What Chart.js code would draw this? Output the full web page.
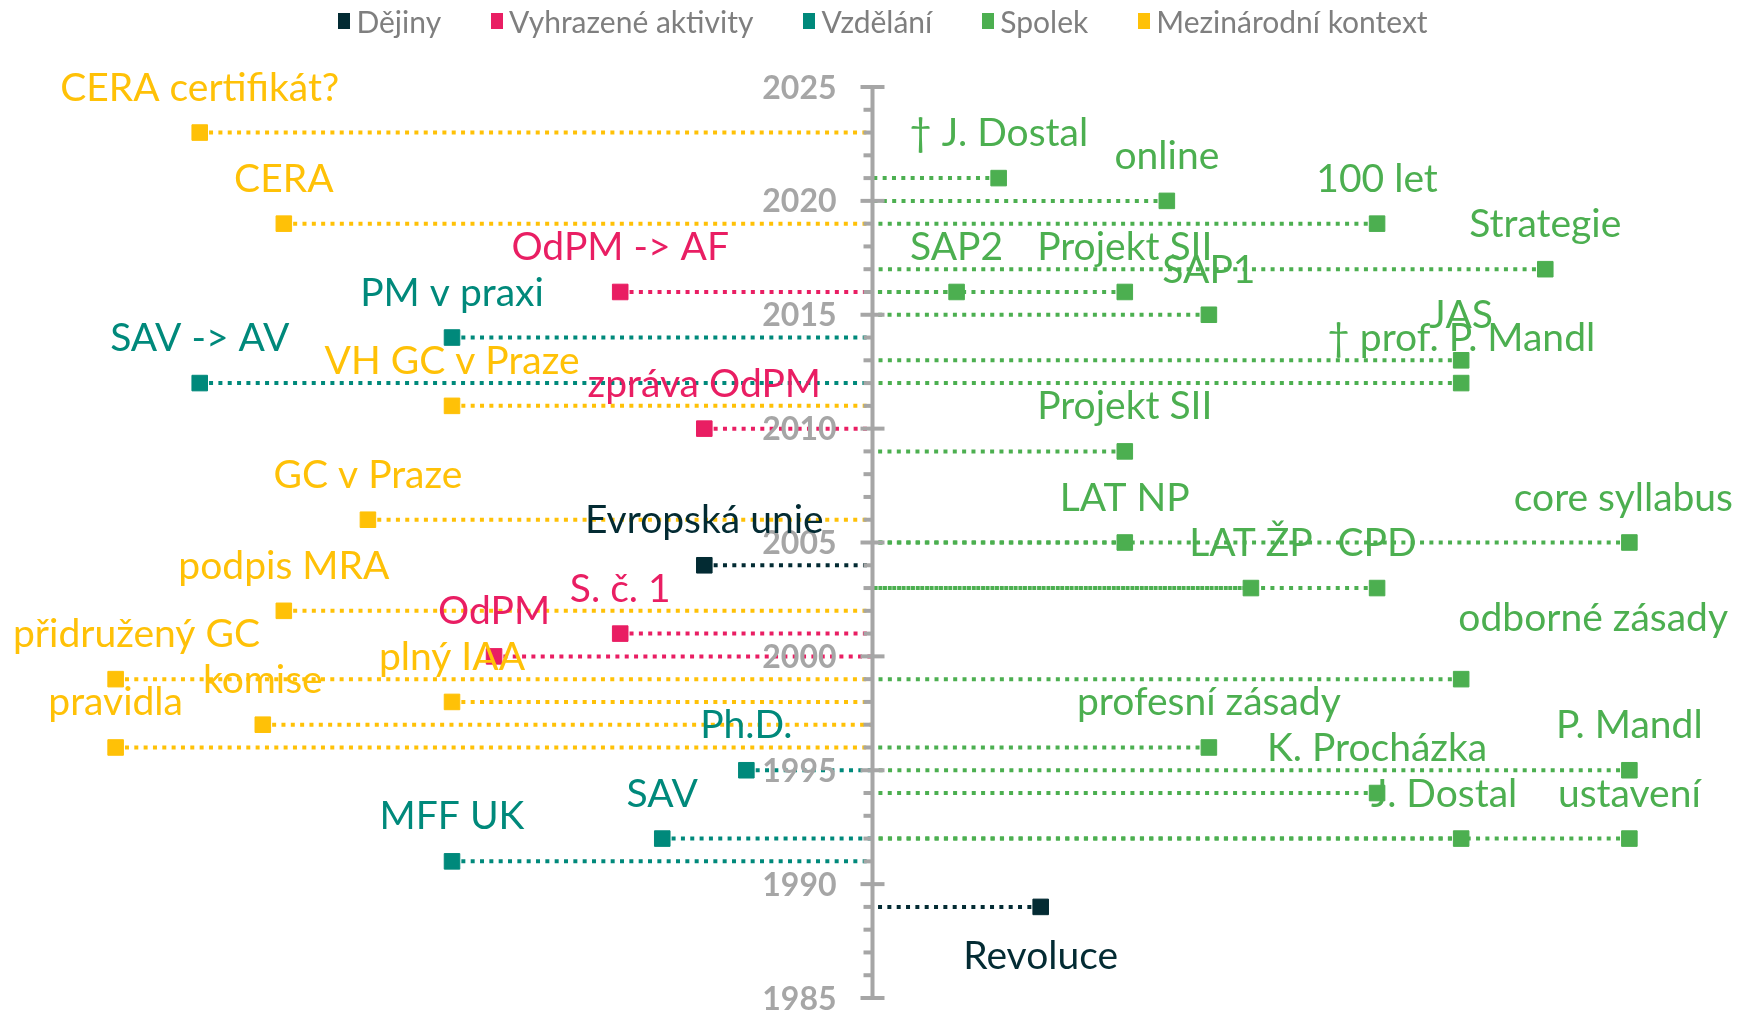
<!DOCTYPE html>
<html lang="cs">
<head>
<meta charset="utf-8">
<title>Časová osa</title>
<script src="https://cdn.jsdelivr.net/npm/chart.js@4.4.1/dist/chart.umd.min.js"></script>
<style>
  body { margin: 0; background: #fff; font-family: Lato, sans-serif; }
  #wrap { position: relative; width: 1752px; height: 1014px; }
  #legend {
    position: absolute; top: 0; left: 0; width: 100%; height: 42px;
    display: flex; justify-content: center; align-items: center; gap: 50px;
    font-size: 30px; color: #7f7f7f; padding-left: 14px; box-sizing: border-box;
  }
  #legend .item { display: flex; align-items: center; }
  #legend .box { width: 12px; height: 16px; margin-right: 6px; }
</style>
</head>
<body>
<div id="wrap">
  <canvas id="timeline"></canvas>
  <div id="legend"></div>
</div>
<script>
// kategorie
const categoryNames = ['Dějiny', 'Vyhrazené aktivity', 'Vzdělání', 'Spolek', 'Mezinárodní kontext'];
const categoryColors = ['#032b33', '#e91e63', '#00897b', '#4caf50', '#ffc107'];

// události: popisek, rok, vodorovná hodnota, kategorie
const eventLabels = [
  'CERA certifikát?', 'CERA', 'OdPM -> AF', 'PM v praxi', 'SAV -> AV', 'VH GC v Praze',
  'zpráva OdPM', 'GC v Praze', 'Evropská unie', 'podpis MRA', 'S. č. 1', 'OdPM',
  'přidružený GC', 'plný IAA', 'komise', 'pravidla', 'Ph.D.', 'SAV', 'MFF UK', 'Revoluce',
  '† J. Dostal', 'online', '100 let', 'Strategie', 'SAP2', 'Projekt SII', 'SAP1', 'JAS',
  '† prof. P. Mandl', 'Projekt SII', 'LAT NP', 'core syllabus', 'LAT ŽP', 'CPD',
  'odborné zásady', 'profesní zásady', 'P. Mandl', 'K. Procházka', 'J. Dostal', 'ustavení'
];
const eventYears = [
  2023, 2019, 2016, 2014, 2012, 2011,
  2010, 2006, 2004, 2002, 2001, 2000,
  1999, 1998, 1997, 1996, 1995, 1992, 1991, 1989,
  2021, 2020, 2019, 2017, 2016, 2016, 2015, 2013,
  2012, 2009, 2005, 2005, 2003, 2003,
  1999, 1996, 1995, 1994, 1992, 1992
];
const eventOffsets = [
  -16, -14, -6, -10, -16, -10,
  -4, -12, -4, -14, -6, -9,
  -18, -10, -14.5, -18, -3, -5, -10, 4,
  3, 7, 12, 16, 2, 6, 8, 14,
  14, 6, 6, 18, 9, 12,
  14, 8, 18, 12, 14, 18
];
const eventCategory = [
  4, 4, 1, 2, 2, 4,
  1, 4, 0, 4, 1, 1,
  4, 4, 4, 4, 2, 2, 2, 0,
  3, 3, 3, 3, 3, 3, 3, 3,
  3, 3, 3, 3, 3, 3,
  3, 3, 3, 3, 3, 3
];
const yearTicks = [1985, 1990, 1995, 2000, 2005, 2010, 2015, 2020, 2025];

const axisColor = '#a6a6a6';

// popisky posunuté ručně (jako v původním grafu)
const labelShift = {
  'odborné zásady': { dx: 132, dy: -16 },
  'J. Dostal': { dx: -17, dy: 0 },
  'Revoluce': { dx: 0, dy: 94 }
};

// legenda
const legendEl = document.getElementById('legend');
categoryNames.forEach((name, i) => {
  const item = document.createElement('div');
  item.className = 'item';
  item.innerHTML = `<span class="box" style="background:${categoryColors[i]}"></span><span>${name}</span>`;
  legendEl.appendChild(item);
});

// spojnice od bodu k ose
const connectorSets = eventLabels.map((label, i) => {
  const color = categoryColors[eventCategory[i]];
  return {
    label: label,
    data: [{ x: eventOffsets[i], y: eventYears[i] }, { x: 0, y: eventYears[i] }],
    showLine: true,
    borderColor: color,
    borderWidth: 4,
    borderDash: [4, 5.333],
    pointRadius: 0,
    pointHoverRadius: 0,
    clip: false,
    order: 1
  };
});

// čtvercové body podle kategorie
const markerSets = categoryNames.map((name, c) => {
  const data = [];
  eventLabels.forEach((label, i) => {
    if (eventCategory[i] === c) data.push({ x: eventOffsets[i], y: eventYears[i] });
  });
  return {
    label: name,
    data: data,
    pointStyle: 'rect',
    pointRadius: 11,
    pointHoverRadius: 11,
    pointBorderWidth: 1,
    pointBackgroundColor: categoryColors[c],
    pointBorderColor: categoryColors[c],
    clip: false,
    order: 0
  };
});

// osa roku uprostřed + popisky událostí
const timelinePlugin = {
  id: 'timelinePlugin',
  afterDatasetsDraw(chart) {
    const { ctx, scales: { x, y } } = chart;
    const x0 = x.getPixelForValue(0);
    ctx.save();
    ctx.strokeStyle = axisColor;
    ctx.lineWidth = 4;
    ctx.beginPath();
    ctx.moveTo(x0, y.getPixelForValue(y.max));
    ctx.lineTo(x0, y.getPixelForValue(y.min));
    ctx.stroke();

    for (let year = y.min; year <= y.max; year++) {
      const py = y.getPixelForValue(year);
      const major = year % 5 === 0;
      ctx.beginPath();
      ctx.moveTo(x0 - (major ? 12 : 9), py);
      ctx.lineTo(major ? x0 + 12 : x0, py);
      ctx.stroke();
    }

    ctx.font = 'bold 32px Lato';
    ctx.fillStyle = axisColor;
    ctx.textAlign = 'right';
    ctx.textBaseline = 'alphabetic';
    yearTicks.forEach(t => {
      ctx.fillText(String(t), x0 - 36, y.getPixelForValue(t) + 11.5);
    });

    ctx.font = '39px Lato';
    ctx.textAlign = 'left';
    eventLabels.forEach((label, i) => {
      const shift = labelShift[label] || { dx: 0, dy: 0 };
      const px = x.getPixelForValue(eventOffsets[i]) + shift.dx;
      const py = y.getPixelForValue(eventYears[i]) - 32 + shift.dy;
      const w = ctx.measureText(label).width;
      let left = px - w / 2;
      if (left < 13) left = 13;
      if (left + w > 1733) left = 1733 - w;
      ctx.fillStyle = categoryColors[eventCategory[i]];
      ctx.fillText(label, left, py);
    });
    ctx.restore();
  }
};

new Chart(document.getElementById('timeline'), {
  type: 'scatter',
  data: { datasets: markerSets.concat(connectorSets) },
  options: {
    responsive: true,
    maintainAspectRatio: false,
    animation: false,
    layout: { autoPadding: false, padding: { top: 87, bottom: 16, left: 0, right: 7 } },
    plugins: {
      legend: { display: false },
      tooltip: { enabled: false }
    },
    scales: {
      x: { type: 'linear', display: false, min: -20.75, max: 20.75 },
      y: { type: 'linear', display: false, min: 1985, max: 2025 }
    }
  },
  plugins: [timelinePlugin]
});
</script>
</body>
</html>
